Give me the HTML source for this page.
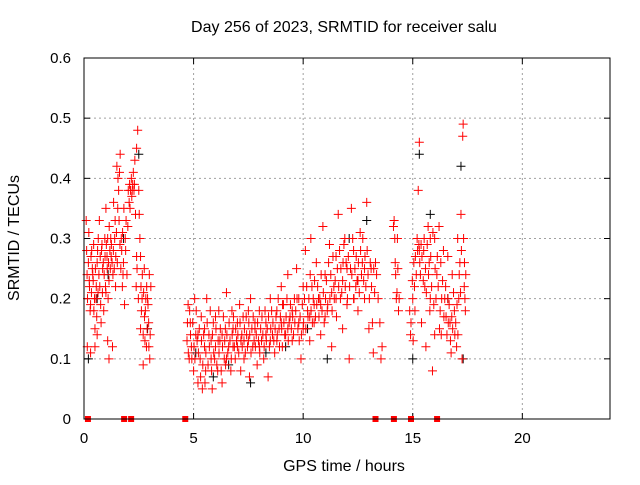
<!DOCTYPE html>
<html><head><meta charset="utf-8"><style>
body{margin:0;background:#fff;}
svg text{font-family:"Liberation Sans",sans-serif;font-size:15px;fill:#000;}
svg text.big{font-size:16px;}
</style></head><body>
<svg id="chart" width="640" height="480">
<text class="big" x="344" y="32" text-anchor="middle">Day 256 of 2023, SRMTID for receiver salu</text>
<text class="big" x="344" y="471" text-anchor="middle">GPS time / hours</text>
<text class="big" transform="translate(19,238) rotate(-90)" text-anchor="middle">SRMTID / TECUs</text>
<g id="grid"></g>
<g id="ticks"></g>
<g id="black"></g>
<g id="red"></g>
<rect x="84" y="58" width="526" height="361" fill="none" stroke="#000"/>
</svg>
<script>
const xTicks=[0,5,10,15,20];
const yTicks=[0,0.1,0.2,0.3,0.4,0.5,0.6];
const yTickLabels=["0","0.1","0.2","0.3","0.4","0.5","0.6"];
const zeroHours=[0.18,1.83,2.15,4.62,13.3,14.14,14.92,16.11];
const redPts=[
0.1,0.33,0.15,0.12,0.2,0.26,0.25,0.22,0.3,0.19,0.35,0.28,0.4,0.24,0.45,0.18,0.5,0.15,0.55,0.2,0.6,0.26,0.65,0.3,0.7,0.33,0.72,0.22,0.8,0.28,0.85,0.25,0.9,0.18,0.95,0.3,1.0,0.35,1.05,0.27,1.1,0.2,1.15,0.32,1.2,0.25,1.25,0.29,1.3,0.12,1.35,0.36,1.4,0.3,1.45,0.27,1.5,0.42,1.55,0.4,1.6,0.33,1.65,0.44,1.7,0.3,1.75,0.22,1.8,0.26,1.85,0.19,1.9,0.28,2.0,0.32,2.1,0.35,2.2,0.38,2.25,0.41,2.3,0.39,2.35,0.34,2.4,0.45,2.45,0.48,2.5,0.38,2.55,0.3,2.6,0.22,2.65,0.2,2.7,0.14,2.75,0.25,2.8,0.18,2.85,0.12,2.9,0.2,2.95,0.16,3.0,0.1,3.05,0.22,0.6,0.14,1.0,0.21,2.4,0.27,2.7,0.09,
4.7,0.13,4.75,0.19,4.8,0.1,4.85,0.16,4.9,0.12,5.0,0.08,5.05,0.2,5.1,0.14,5.2,0.06,5.3,0.1,5.35,0.17,5.4,0.05,5.5,0.12,5.55,0.08,5.6,0.2,5.7,0.14,5.8,0.1,5.85,0.05,5.9,0.16,6.0,0.12,6.1,0.08,6.15,0.18,6.2,0.13,6.3,0.06,6.4,0.1,6.45,0.15,6.5,0.21,6.6,0.12,6.7,0.08,6.75,0.18,6.8,0.15,6.9,0.1,7.0,0.12,7.1,0.19,7.15,0.08,7.2,0.14,7.3,0.1,7.4,0.17,7.5,0.13,7.55,0.07,7.6,0.2,7.7,0.12,7.8,0.15,7.9,0.09,8.0,0.18,8.1,0.13,8.2,0.1,8.3,0.16,8.4,0.07,8.5,0.2,8.6,0.14,8.7,0.11,8.8,0.18,8.9,0.15,9.0,0.22,9.05,0.12,9.1,0.19,9.2,0.14,9.3,0.24,9.4,0.17,9.5,0.13,9.6,0.2,9.7,0.25,9.8,0.16,9.9,0.1,10.0,0.22,10.1,0.28,10.2,0.18,10.3,0.13,10.35,0.3,10.4,0.22,10.5,0.16,10.6,0.26,10.7,0.2,10.8,0.14,10.9,0.32,11.0,0.24,11.1,0.18,11.2,0.29,11.3,0.12,11.4,0.22,11.5,0.27,11.6,0.34,11.7,0.2,11.8,0.15,11.9,0.3,12.0,0.25,12.1,0.1,12.2,0.35,12.3,0.28,12.4,0.22,12.5,0.18,12.6,0.31,12.7,0.26,12.8,0.2,12.9,0.36,13.0,0.15,13.1,0.25,13.2,0.11,13.3,0.26,13.5,0.16,13.6,0.12,
14.15,0.33,14.2,0.26,14.25,0.2,14.3,0.3,14.35,0.18,
14.9,0.14,15.0,0.2,15.05,0.26,15.1,0.18,15.2,0.3,15.25,0.38,15.3,0.46,15.35,0.24,15.4,0.16,15.5,0.28,15.55,0.22,15.6,0.12,15.7,0.32,15.75,0.26,15.8,0.2,15.9,0.08,16.0,0.3,16.1,0.24,16.2,0.32,16.25,0.18,16.3,0.14,16.4,0.28,16.5,0.22,16.6,0.2,16.7,0.16,16.75,0.11,16.8,0.24,16.9,0.18,17.0,0.12,17.05,0.3,17.1,0.2,17.15,0.26,17.2,0.34,17.25,0.1,17.3,0.49,17.35,0.22,17.4,0.18,15.3,0.28,16.0,0.14,16.6,0.27,15.8,0.3,
5.5,0.15,6.0,0.17,6.5,0.1,7.0,0.16,7.5,0.18,8.0,0.12,8.5,0.13,9.0,0.16,9.5,0.18,10.0,0.15,10.5,0.19,11.0,0.17,11.5,0.2,12.0,0.19,12.5,0.23,5.2,0.14,5.8,0.13,6.3,0.14,6.8,0.12,7.3,0.13,7.8,0.16,8.3,0.14,8.8,0.13,9.3,0.15,9.8,0.2,10.3,0.17,10.8,0.19,11.3,0.21,11.8,0.23,12.3,0.2,12.8,0.25
];
const redPts2=[
0.12,0.28,0.14,0.24,0.16,0.2,0.22,0.31,0.24,0.23,0.28,0.18,0.32,0.27,0.34,0.21,0.38,0.25,0.42,0.23,0.44,0.29,0.48,0.2,0.52,0.25,0.56,0.22,0.58,0.17,0.62,0.28,0.64,0.21,0.68,0.24,0.74,0.27,0.76,0.19,0.78,0.16,0.82,0.29,0.84,0.21,0.88,0.26,0.92,0.24,0.96,0.27,0.98,0.22,1.02,0.29,1.06,0.25,1.08,0.3,1.12,0.26,1.14,0.23,1.18,0.28,1.22,0.3,1.24,0.27,1.28,0.26,1.32,0.24,1.34,0.28,1.38,0.25,1.42,0.33,1.44,0.22,1.48,0.31,1.52,0.26,1.54,0.35,1.58,0.38,1.62,0.41,1.64,0.29,1.68,0.25,1.72,0.28,1.76,0.31,1.78,0.24,1.82,0.35,1.88,0.3,1.92,0.33,1.96,0.24,2.02,0.38,2.06,0.36,2.08,0.39,2.12,0.38,2.16,0.4,2.18,0.37,2.22,0.39,2.28,0.38,2.32,0.43,2.38,0.22,2.42,0.25,2.48,0.2,2.52,0.34,2.58,0.27,2.62,0.18,2.66,0.24,2.72,0.21,2.76,0.17,2.78,0.13,2.82,0.2,2.86,0.22,2.88,0.15,2.92,0.19,2.96,0.12,2.98,0.24,3.02,0.14,0.3,0.11,0.5,0.12,1.08,0.13,1.14,0.1,2.58,0.15,
4.72,0.16,4.76,0.11,4.82,0.18,4.86,0.14,4.92,0.1,4.96,0.16,5.02,0.12,5.06,0.1,5.12,0.18,5.16,0.13,5.22,0.11,5.26,0.15,5.32,0.07,5.36,0.13,5.42,0.09,5.46,0.14,5.52,0.06,5.56,0.11,5.62,0.16,5.66,0.09,5.72,0.12,5.76,0.18,5.82,0.08,5.86,0.14,5.92,0.11,5.96,0.1,6.02,0.15,6.06,0.09,6.12,0.13,6.16,0.11,6.22,0.15,6.26,0.08,6.32,0.12,6.36,0.17,6.42,0.13,6.46,0.09,6.52,0.14,6.56,0.11,6.62,0.16,6.66,0.13,6.72,0.1,6.76,0.14,6.82,0.17,6.86,0.12,6.92,0.15,6.96,0.13,7.02,0.14,7.06,0.11,7.12,0.16,7.16,0.13,7.22,0.12,7.26,0.17,7.32,0.15,7.36,0.11,7.42,0.14,7.46,0.12,7.52,0.16,7.56,0.14,7.62,0.11,7.66,0.15,7.72,0.17,7.76,0.13,7.82,0.12,7.86,0.14,7.92,0.16,7.96,0.13,8.02,0.11,8.06,0.15,8.12,0.17,8.16,0.14,8.22,0.12,8.26,0.18,8.32,0.13,8.36,0.15,8.42,0.17,8.46,0.12,8.52,0.15,8.56,0.18,8.62,0.16,8.66,0.13,8.72,0.15,8.76,0.17,8.82,0.14,8.86,0.2,8.92,0.12,8.96,0.17,9.02,0.15,9.06,0.19,9.12,0.16,9.16,0.14,9.22,0.17,9.26,0.2,9.32,0.13,9.36,0.16,9.42,0.19,9.46,0.15,9.52,0.17,9.56,0.14,9.62,0.16,9.66,0.18,9.72,0.2,9.76,0.15,9.82,0.13,9.86,0.17,9.92,0.14,9.96,0.19,10.02,0.16,10.06,0.2,10.12,0.15,10.16,0.22,10.22,0.17,10.26,0.2,10.32,0.24,10.36,0.18,10.42,0.16,10.46,0.2,10.52,0.23,10.56,0.17,10.62,0.19,10.66,0.22,10.72,0.17,10.76,0.2,10.82,0.24,10.86,0.18,10.92,0.21,10.96,0.16,11.02,0.2,11.06,0.23,11.12,0.19,11.16,0.26,11.22,0.2,11.26,0.24,11.32,0.18,11.36,0.27,11.42,0.2,11.46,0.23,11.52,0.17,11.56,0.25,11.62,0.22,11.66,0.28,11.72,0.25,11.76,0.21,11.82,0.26,11.86,0.29,11.92,0.22,11.96,0.26,12.02,0.2,12.06,0.27,12.12,0.22,12.16,0.25,12.22,0.24,12.26,0.3,12.32,0.2,12.36,0.25,12.42,0.27,12.46,0.23,12.52,0.26,12.56,0.21,12.62,0.28,12.66,0.24,12.72,0.3,12.76,0.23,12.82,0.27,12.86,0.22,12.92,0.28,12.96,0.24,13.02,0.2,13.06,0.26,13.12,0.22,13.16,0.16,13.22,0.25,13.26,0.21,13.35,0.24,13.42,0.2,13.55,0.1,
14.12,0.32,14.18,0.3,14.22,0.24,14.28,0.21,14.32,0.25,14.38,0.2,
14.86,0.18,14.92,0.16,14.98,0.23,15.02,0.13,15.08,0.22,15.12,0.27,15.16,0.24,15.22,0.28,15.28,0.29,15.32,0.26,15.38,0.29,15.42,0.27,15.48,0.23,15.52,0.3,15.58,0.25,15.62,0.21,15.66,0.29,15.72,0.24,15.78,0.18,15.82,0.27,15.86,0.22,15.92,0.31,15.96,0.19,16.02,0.25,16.06,0.2,16.12,0.27,16.16,0.22,16.22,0.15,16.28,0.26,16.32,0.2,16.36,0.23,16.42,0.17,16.46,0.2,16.52,0.17,16.56,0.14,16.62,0.16,16.66,0.19,16.72,0.13,16.78,0.17,16.82,0.15,16.86,0.21,16.92,0.14,16.96,0.16,17.02,0.19,17.06,0.14,17.12,0.24,17.18,0.21,17.22,0.28,17.28,0.47,17.32,0.3,17.36,0.26,17.38,0.2,17.42,0.24
];
const blackPts=[0.2,0.1,0.6,0.2,1.1,0.24,1.8,0.3,2.5,0.44,2.9,0.15,5.1,0.11,5.9,0.07,6.6,0.09,7.6,0.06,8.3,0.11,9.2,0.12,10.2,0.15,11.1,0.1,12.1,0.3,12.9,0.33,15.0,0.1,15.3,0.44,15.8,0.34,16.6,0.2,17.2,0.42,17.3,0.1];
const X=h=>84+h*(526/24), Y=v=>419-v*(361/0.6);
const NS="http://www.w3.org/2000/svg";
function mk(t,a,p){const e=document.createElementNS(NS,t);for(const k in a)e.setAttribute(k,a[k]);p.appendChild(e);return e;}
const grid=document.getElementById('grid'),ticks=document.getElementById('ticks');
xTicks.forEach(t=>{const x=X(t);
 if(t>0){const l=mk('line',{x1:x,x2:x,y1:58,y2:419,stroke:'#a0a0a0','stroke-dasharray':'2,3'},grid);
 
 }
 mk('line',{x1:x,x2:x,y1:419,y2:413,stroke:'#000'},ticks);mk('line',{x1:x,x2:x,y1:58,y2:64,stroke:'#000'},ticks);
 const tx=mk('text',{x:x,y:443,'text-anchor':'middle'},ticks);tx.textContent=t;
 
 });
yTicks.forEach((t,i)=>{const y=Y(t);
 if(i>0&&i<yTicks.length-1){const l=mk('line',{x1:84,x2:610,y1:y,y2:y,stroke:'#a0a0a0','stroke-dasharray':'2,3'},grid);
 
 }
 mk('line',{x1:84,x2:90,y1:y,y2:y,stroke:'#000'},ticks);mk('line',{x1:604,x2:610,y1:y,y2:y,stroke:'#000'},ticks);
 const tx=mk('text',{x:71,y:y+5,'text-anchor':'end'},ticks);tx.textContent=yTickLabels[i];
 
 });
function plus(g,h,v,c){const x=X(h),y=Y(v);
 const p=mk('path',{d:`M${x-4.5} ${y}H${x+4.5}M${x} ${y-4.5}V${y+4.5}`,stroke:c,'stroke-width':1,fill:'none'},g);
 
 }
const bg=document.getElementById('black'),rg=document.getElementById('red');
for(let i=0;i<blackPts.length;i+=2)plus(bg,blackPts[i],blackPts[i+1],'#000');
for(let i=0;i<redPts.length;i+=2)plus(rg,redPts[i],redPts[i+1],'#ff0000');
for(let i=0;i<redPts2.length;i+=2)plus(rg,redPts2[i],redPts2[i+1],'#ff0000');
zeroHours.forEach(h=>{const r=mk('rect',{x:X(h)-3,y:416,width:6,height:6,fill:'#ff0000'},rg);
 
 });
</script>
</body></html>
